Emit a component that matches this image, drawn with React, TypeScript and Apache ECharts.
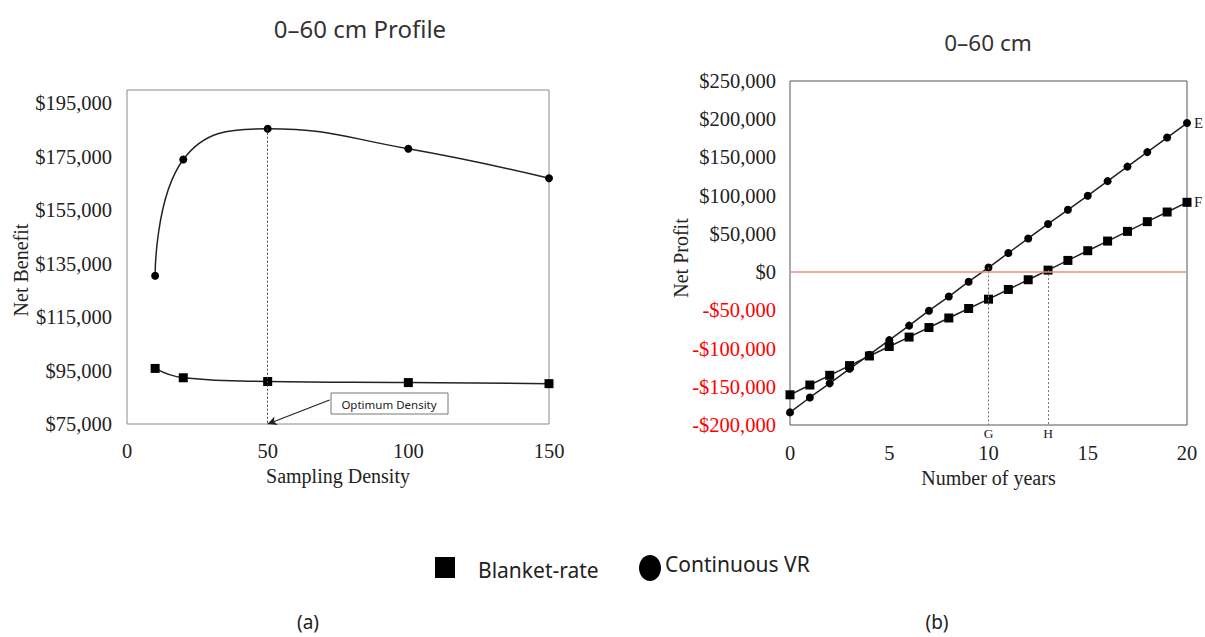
import React, { useEffect, useRef } from "react";
import * as echarts from "echarts";

// ---- Data (a) ----
const densityX = [10, 20, 50, 100, 150];
const netBenefitContinuous = [130500, 174000, 185500, 178000, 167000];
const netBenefitBlanket = [95800, 92300, 90900, 90500, 90100];
const optimumDensity = 50;
const leftYTicksMin = 75000;
const leftYTicksMax = 200000;

// ---- Data (b) ----
const years = Array.from({ length: 21 }, (_, i) => i);
const profitContinuous = [
  -183500, -164000, -145500, -126500, -108000, -89000, -70000, -50500, -32000, -12500,
  6000, 25000, 44000, 63000, 81500, 100000, 119000, 138000, 157000, 176000, 195000,
];
const profitBlanket = [
  -160500, -147700, -135000, -122300, -109700, -97300, -85000, -72500, -60000, -47600,
  -35400, -22700, -10000, 2600, 15300, 28000, 40600, 53300, 66000, 78600, 91300,
];
const breakEvenG = 10;
const breakEvenH = 13;

const serif = "Liberation Serif";
const sans = "Noto Sans";

const fmtMoney = (v: number) =>
  (v < 0 ? "-$" : "$") + Math.abs(v).toLocaleString("en-US");

export default function App() {
  const ref = useRef<HTMLDivElement>(null);
  useEffect(() => {
    if (!ref.current) return;
    const chart = echarts.init(ref.current, null, { renderer: "svg" });
    const optIdx = densityX.indexOf(optimumDensity);
    const tickFont = 20.5;
    const option: any = {
      animation: false,
      backgroundColor: "#ffffff",
      grid: [
        { left: 127, right: 656, top: 90, bottom: 213, show: true, borderColor: "#8a8a8a", borderWidth: 1 },
        { left: 790, right: 18, top: 81, bottom: 212, show: true, borderColor: "#555", borderWidth: 1 },
      ],
      xAxis: [
        {
          gridIndex: 0, type: "value", min: 0, max: 150, interval: 50,
          axisLine: { show: false }, axisTick: { show: false }, splitLine: { show: false },
          axisLabel: { fontFamily: serif, fontSize: tickFont, color: "#222", margin: 16 },
          name: "Sampling Density", nameLocation: "middle", nameGap: 42,
          nameTextStyle: { fontFamily: serif, fontSize: 20, color: "#222" },
        },
        {
          gridIndex: 1, type: "value", min: 0, max: 20, interval: 5,
          axisLine: { show: false }, axisTick: { show: false }, splitLine: { show: false },
          axisLabel: { fontFamily: serif, fontSize: tickFont, color: "#222", margin: 17 },
          name: "Number of years", nameLocation: "middle", nameGap: 42,
          nameTextStyle: { fontFamily: serif, fontSize: 20, color: "#222" },
        },
      ],
      yAxis: [
        {
          gridIndex: 0, type: "value", min: leftYTicksMin, max: leftYTicksMax, interval: 20000,
          axisLine: { show: false }, axisTick: { show: false }, splitLine: { show: false },
          axisLabel: { fontFamily: serif, fontSize: tickFont, color: "#222", margin: 15, showMaxLabel: false, formatter: fmtMoney },
        },
        {
          gridIndex: 1, type: "value", min: -200000, max: 250000, interval: 50000,
          axisLine: { show: false }, axisTick: { show: false }, splitLine: { show: false },
          axisLabel: {
            fontFamily: serif, fontSize: tickFont, margin: 14, formatter: fmtMoney,
            color: (v: any) => (Number(v) < 0 ? "#ff0000" : "#222"),
          },
        },
      ],
      series: [
        {
          type: "line", xAxisIndex: 0, yAxisIndex: 0, smooth: 0.45,
          data: densityX.map((x, i) => [x, netBenefitContinuous[i]]),
          symbol: "circle", symbolSize: 8, itemStyle: { color: "#000" },
          lineStyle: { color: "#222", width: 1.5 },
          markLine: {
            silent: true, symbol: ["none", "none"], label: { show: false },
            lineStyle: { type: [2, 2], color: "#444", width: 1 },
            data: [[
              { coord: [optimumDensity, netBenefitContinuous[optIdx]] },
              { coord: [optimumDensity, leftYTicksMin] },
            ]],
          },
          z: 3,
        },
        {
          type: "line", xAxisIndex: 0, yAxisIndex: 0, smooth: 0.45,
          data: densityX.map((x, i) => [x, netBenefitBlanket[i]]),
          symbol: "rect", symbolSize: 9, itemStyle: { color: "#000" },
          lineStyle: { color: "#222", width: 1.5 },
          markLine: {
            silent: true, symbol: ["none", "arrow"], symbolSize: [7, 9], label: { show: false },
            lineStyle: { type: "solid", color: "#222", width: 1.2 },
            data: [[
              { coord: [72, 84000] },
              { coord: [optimumDensity, leftYTicksMin] },
            ]],
          },
          z: 3,
        },
        {
          type: "line", xAxisIndex: 1, yAxisIndex: 1,
          data: years.map((x, i) => [x, profitContinuous[i]]),
          symbol: "circle", symbolSize: 8, itemStyle: { color: "#000" },
          lineStyle: { color: "#222", width: 1.5 },
          endLabel: { show: true, formatter: "E", fontFamily: serif, fontSize: 15, color: "#222", distance: 7 },
          markLine: {
            silent: true, symbol: ["none", "none"],
            lineStyle: { type: [2, 2], color: "#777", width: 1 },
            label: { show: true, position: "end", formatter: "G", fontFamily: serif, fontSize: 13.5, color: "#222", distance: 1 },
            data: [[
              { coord: [breakEvenG, profitContinuous[breakEvenG]] },
              { coord: [breakEvenG, -200000] },
            ]],
          },
          z: 3,
        },
        {
          type: "line", xAxisIndex: 1, yAxisIndex: 1,
          data: years.map((x, i) => [x, profitBlanket[i]]),
          symbol: "rect", symbolSize: 9, itemStyle: { color: "#000" },
          lineStyle: { color: "#222", width: 1.5 },
          endLabel: { show: true, formatter: "F", fontFamily: serif, fontSize: 15, color: "#222", distance: 7 },
          markLine: {
            silent: true, symbol: ["none", "none"],
            data: [
              [
                { coord: [breakEvenH, profitBlanket[breakEvenH]], lineStyle: { type: [2, 2], color: "#777", width: 1 },
                  label: { show: true, position: "end", formatter: "H", fontFamily: serif, fontSize: 13.5, color: "#222", distance: 1 } },
                { coord: [breakEvenH, -200000] },
              ],
              {
                yAxis: 0, lineStyle: { type: "solid", color: "#f08a8a", width: 1.5 },
                label: { show: false },
              },
            ],
          },
          z: 3,
        },
      ],
      graphic: [
        { type: "text", x: 360, y: 28, style: { text: "0–60 cm Profile", font: `24px "${sans}"`, fill: "#333", align: "center", verticalAlign: "middle" } },
        { type: "text", x: 988, y: 42, style: { text: "0–60 cm", font: `22.5px "${sans}"`, fill: "#333", align: "center", verticalAlign: "middle" } },
        { type: "text", x: 21, y: 270, rotation: Math.PI / 2, style: { text: "Net Benefit", font: `20px "${serif}"`, fill: "#222", align: "center", verticalAlign: "middle" } },
        { type: "text", x: 681, y: 258, rotation: Math.PI / 2, style: { text: "Net Profit", font: `20px "${serif}"`, fill: "#222", align: "center", verticalAlign: "middle" } },
        { type: "rect", shape: { x: 331, y: 393, width: 117, height: 21 }, style: { fill: "#fff", stroke: "#777", lineWidth: 1 }, z: 10 },
        { type: "text", x: 389, y: 404, style: { text: "Optimum Density", font: `11.5px "${sans}"`, fill: "#222", align: "center", verticalAlign: "middle" }, z: 11 },
        // legend
        { type: "rect", shape: { x: 435, y: 557, width: 20, height: 21 }, style: { fill: "#000" } },
        { type: "text", x: 478, y: 570, style: { text: "Blanket-rate", font: `21px "${sans}"`, fill: "#222", verticalAlign: "middle" } },
        { type: "ellipse", shape: { cx: 650, cy: 568, rx: 11, ry: 13 }, style: { fill: "#000" } },
        { type: "text", x: 665, y: 564, style: { text: "Continuous VR", font: `21px "${sans}"`, fill: "#222", verticalAlign: "middle" } },
        { type: "text", x: 308, y: 622, style: { text: "(a)", font: `19px "${sans}"`, fill: "#222", align: "center", verticalAlign: "middle" } },
        { type: "text", x: 937, y: 622, style: { text: "(b)", font: `19px "${sans}"`, fill: "#222", align: "center", verticalAlign: "middle" } },
      ],
    };
    chart.setOption(option);
    return () => chart.dispose();
  }, []);
  return (
    <div
      ref={ref}
      style={{ position: "absolute", left: 0, top: 0, width: 1205, height: 637, background: "#fff" }}
    />
  );
}
